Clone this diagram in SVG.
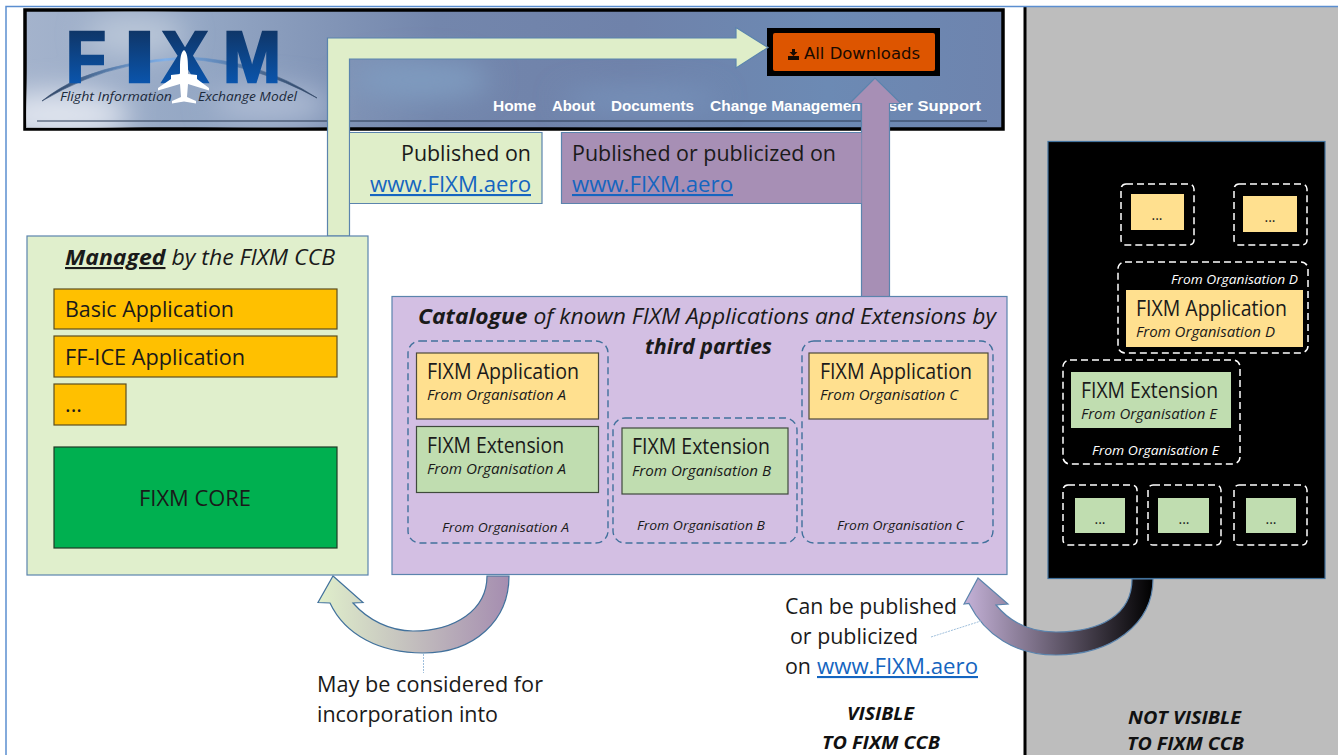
<svg xmlns="http://www.w3.org/2000/svg" width="1338" height="755" viewBox="0 0 1338 755">
<style>
text{font-family:"Open Sans","Noto Sans","Liberation Sans",sans-serif;fill:#1a1a1a}
.big{font-size:21px}
.sub{font-size:15px;font-style:italic}
.tiny{font-size:13px;font-style:italic}
.hd{font-size:21px;font-style:italic}
.vis{font-size:18px;font-style:italic;font-weight:700;fill:#111}
.lnk{fill:#1565c0;text-decoration:underline;font-size:21px}
.nav{font-family:"Liberation Sans",sans-serif;font-weight:700;font-size:15.500px;fill:#fff}
.wh{fill:#fff}
.dash{fill:none;stroke:#41719c;stroke-width:1.4;stroke-dasharray:7 4}
.wd{fill:none;stroke:#fff;stroke-width:1.5;stroke-dasharray:7 4}
.app{fill:#ffe08f;stroke:#4d4a3a;stroke-width:1.2}
.ext{fill:#c0ddb0;stroke:#3f4a3c;stroke-width:1.2}
.appd{fill:#ffe08f}
.extd{fill:#c0ddb0}
.gold{fill:#ffc000;stroke:#5c4e20;stroke-width:1.2}
.ln{stroke:#5b84ad;stroke-width:1.2}
.lg{font-family:"Liberation Sans",sans-serif;font-size:72px;font-weight:700;fill:url(#logo);stroke:url(#logo);stroke-width:2.500}
.tag{font-size:13.500px;font-style:italic;fill:#1c2a3c}
</style>
<defs>
<linearGradient id="sky" x1="0" y1="0" x2="1" y2="0"><stop offset="0" stop-color="#a4b3cc"/><stop offset=".18" stop-color="#94a7c4"/><stop offset=".42" stop-color="#7386ac"/><stop offset=".62" stop-color="#6f82aa"/><stop offset=".82" stop-color="#6c8ab4"/><stop offset="1" stop-color="#6e84ae"/></linearGradient>
<linearGradient id="logo" x1="0" y1="29" x2="0" y2="84" gradientUnits="userSpaceOnUse"><stop offset="0" stop-color="#0f3566"/><stop offset="1" stop-color="#0a55ad"/></linearGradient>
<linearGradient id="swoosh" x1="41" y1="0" x2="318" y2="0" gradientUnits="userSpaceOnUse"><stop offset="0" stop-color="#2a3f5e"/><stop offset=".45" stop-color="#7fb0ea"/><stop offset="1" stop-color="#2a3f5e"/></linearGradient>
<linearGradient id="g1" x1="318" y1="0" x2="509" y2="0" gradientUnits="userSpaceOnUse"><stop offset="0" stop-color="#e0efcb"/><stop offset="1" stop-color="#a58db0"/></linearGradient>
<linearGradient id="g2" x1="964" y1="0" x2="1153" y2="0" gradientUnits="userSpaceOnUse"><stop offset="0" stop-color="#c5b2d8"/><stop offset="1" stop-color="#000"/></linearGradient>
<filter id="soft" x="-30%" y="-30%" width="160%" height="160%"><feGaussianBlur stdDeviation="14"/></filter>
<clipPath id="hc"><rect x="26" y="11" width="976" height="117"/></clipPath>
</defs>
<rect width="1338" height="755" fill="#fff"/>
<rect x="1025" y="6" width="313" height="749" fill="#bdbdbd"/>
<path d="M1025 6V755" stroke="#000" stroke-width="3"/>
<path d="M6 755V6.500H1338" fill="none" stroke="#5b8ed0" stroke-width="1.500"/>

<g id="header">
<rect x="25" y="10" width="978" height="119" fill="url(#sky)" stroke="#000" stroke-width="3.500"/>
<g clip-path="url(#hc)"><g filter="url(#soft)">
<ellipse cx="60" cy="115" rx="70" ry="24" fill="#dfe4ee"/>
<ellipse cx="135" cy="35" rx="50" ry="22" fill="#b9c6d8"/>
<ellipse cx="270" cy="105" rx="60" ry="18" fill="#aebcd4"/>
<ellipse cx="420" cy="80" rx="70" ry="20" fill="#7f9bc0"/>
<ellipse cx="640" cy="100" rx="80" ry="12" fill="#7793bb"/>
</g></g>
<path d="M37 121H987" stroke="#2b3a55" stroke-width="1.200"/>
<g id="logo-mark">
<path d="M42 101Q58 88 80 78Q125 60 187 57Q260 60 317 98Q255 64 187 59Q125 62 84 80Q62 89 42 101Z" fill="url(#swoosh)" stroke="url(#swoosh)" stroke-width=".6"/>
<text class="lg" x="66" y="82" textLength="40" lengthAdjust="spacingAndGlyphs">F</text>
<text class="lg" x="123" y="82" textLength="33" lengthAdjust="spacingAndGlyphs">I</text>
<text class="lg" x="162" y="82" textLength="46" lengthAdjust="spacingAndGlyphs">X</text>
<text class="lg" x="223" y="82" textLength="58" lengthAdjust="spacingAndGlyphs">M</text>
<path d="M184 50C181 52 180 58 180 68V74L171 75V79L158 88V90.500L180 84L181 97L172 101V103.500L184 101.500L196 103.500V101L187 97L188 84L209 90.500V88L197 79V75L188 74V68C188 58 187 52 184 50Z" fill="#fff"/>
<text class="tag" x="60" y="101" textLength="112" lengthAdjust="spacingAndGlyphs">Flight Information</text>
<text class="tag" x="198" y="101" textLength="99" lengthAdjust="spacingAndGlyphs">Exchange Model</text>
</g>
<text class="nav" x="493" y="111" textLength="43" lengthAdjust="spacingAndGlyphs">Home</text>
<text class="nav" x="552" y="111" textLength="43" lengthAdjust="spacingAndGlyphs">About</text>
<text class="nav" x="611" y="111" textLength="83" lengthAdjust="spacingAndGlyphs">Documents</text>
<text class="nav" x="710" y="111" textLength="156" lengthAdjust="spacingAndGlyphs">Change Management</text>
<text class="nav" x="876" y="111" textLength="105" lengthAdjust="spacingAndGlyphs">User Support</text>
</g>

<g id="downloads">
<rect x="767" y="28" width="173" height="48" fill="#000"/>
<rect x="773" y="33" width="162" height="38" rx="2" fill="#dd5500"/>
<path d="M792 49h3v3h2.500l-4 4-4-4h2.500zM788 56h11v4h-11z" fill="#1a0a00"/>
<text x="804" y="59" textLength="116" lengthAdjust="spacingAndGlyphs" style="font-family:'DejaVu Sans',sans-serif;font-size:16px;fill:#1a0a00">All Downloads</text>
</g>

<g id="connectors">
<path d="M327.500 236V38H736V27.500L768 47.500L736 68V59H349.500V236Z" fill="#dfeec9" stroke="#5b84ad" stroke-width="1.200"/>
<path d="M861.500 297V103.500H849.500L875 78L901 103.500H889.500V297Z" fill="#a78fb5" stroke="#5b84ad" stroke-width="1.200"/>
<path d="M509 576C509 620 475 653 423 653C380 653 345 635 330 603L318 602.500L333 576L363 602.500L353 603C368 620 390 631 413 631C455 631 487 610 487 576Z" fill="url(#g1)" stroke="#41719c" stroke-width="1.200"/>
<path d="M1153 579C1153 625 1110 655 1056 655C1015 655 985 635 969 603.500L964 604L978 578L1008 604L996 605C1010 622 1030 632 1056 632C1100 632 1132 615 1132 579Z" fill="url(#g2)" stroke="#5b84ad" stroke-width="1.200"/>
<path d="M423.500 654V673" stroke="#9fbfdc" stroke-width="1" stroke-dasharray="2 1"/>
<path d="M931 637L981 621" stroke="#9fbfdc" stroke-width="1" stroke-dasharray="2 1"/>
</g>

<g id="published-green">
<rect x="350" y="132.500" width="192" height="71" fill="#dfeec9"/>
<path d="M350 132.500H542V203.500H350" fill="none" class="ln"/>
<text class="big" x="531" y="161" text-anchor="end" textLength="130" lengthAdjust="spacingAndGlyphs">Published on</text>
<text class="lnk" x="370" y="192" textLength="161" lengthAdjust="spacingAndGlyphs">www.FIXM.aero</text>
</g>
<g id="published-purple">
<rect x="561.500" y="132.500" width="300" height="71" fill="#a78fb5"/>
<path d="M861.500 132.500H561.500V203.500H861.500" fill="none" class="ln"/>
<text class="big" x="572" y="161" textLength="264" lengthAdjust="spacingAndGlyphs">Published or publicized on</text>
<text class="lnk" x="572" y="192" textLength="161" lengthAdjust="spacingAndGlyphs">www.FIXM.aero</text>
</g>

<g id="managed">
<rect x="27" y="236" width="341" height="339" fill="#e0efcc" class="ln"/>
<text class="hd" x="65" y="265" textLength="270" lengthAdjust="spacingAndGlyphs"><tspan font-weight="700" text-decoration="underline">Managed</tspan> by the FIXM CCB</text>
</g>
<g id="basic-application"><rect class="gold" x="54" y="289" width="283" height="40"/><text class="big" x="65" y="317" textLength="169" lengthAdjust="spacingAndGlyphs">Basic Application</text></g>
<g id="ff-ice-application"><rect class="gold" x="54" y="336" width="283" height="41"/><text class="big" x="65" y="365" textLength="180" lengthAdjust="spacingAndGlyphs">FF-ICE Application</text></g>
<g id="more-applications"><rect class="gold" x="54" y="384" width="72" height="41"/><text class="big" x="65" y="412" textLength="17" lengthAdjust="spacingAndGlyphs">...</text></g>
<g id="fixm-core"><rect x="54" y="447" width="283" height="101" fill="#00b050" stroke="#1f3a25" stroke-width="1.200"/><text class="big" x="139" y="506" textLength="112" lengthAdjust="spacingAndGlyphs">FIXM CORE</text></g>

<g id="catalogue">
<rect x="392" y="296.500" width="615" height="278" fill="#d3bfe3" class="ln"/>
<text class="hd" x="418" y="324" textLength="578" lengthAdjust="spacingAndGlyphs"><tspan font-weight="700">Catalogue</tspan> of known FIXM Applications and Extensions by</text>
<text class="hd" x="645" y="354" font-weight="700" textLength="127" lengthAdjust="spacingAndGlyphs">third parties</text>
</g>
<g id="org-a">
<rect class="dash" x="408" y="341" width="200" height="202" rx="12"/>
<text class="tiny" x="442" y="532" textLength="127" lengthAdjust="spacingAndGlyphs">From Organisation A</text>
</g>
<g id="org-b">
<rect class="dash" x="613" y="418" width="184" height="125" rx="12"/>
<text class="tiny" x="637" y="530" textLength="128" lengthAdjust="spacingAndGlyphs">From Organisation B</text>
</g>
<g id="org-c">
<rect class="dash" x="802" y="341" width="191" height="202" rx="12"/>
<text class="tiny" x="837" y="530" textLength="127" lengthAdjust="spacingAndGlyphs">From Organisation C</text>
</g>
<g id="app-a"><rect class="app" x="416.500" y="353" width="182" height="66"/><text class="big" x="427" y="379" textLength="152" lengthAdjust="spacingAndGlyphs">FIXM Application</text><text class="sub" x="427" y="400" textLength="139" lengthAdjust="spacingAndGlyphs">From Organisation A</text></g>
<g id="ext-a"><rect class="ext" x="416.500" y="426.500" width="182" height="66"/><text class="big" x="427" y="453" textLength="137" lengthAdjust="spacingAndGlyphs">FIXM Extension</text><text class="sub" x="427" y="474" textLength="139" lengthAdjust="spacingAndGlyphs">From Organisation A</text></g>
<g id="ext-b"><rect class="ext" x="622" y="428" width="166" height="66"/><text class="big" x="632" y="454" textLength="138" lengthAdjust="spacingAndGlyphs">FIXM Extension</text><text class="sub" x="632" y="476" textLength="139" lengthAdjust="spacingAndGlyphs">From Organisation B</text></g>
<g id="app-c"><rect class="app" x="809" y="353" width="179" height="66"/><text class="big" x="820" y="379" textLength="152" lengthAdjust="spacingAndGlyphs">FIXM Application</text><text class="sub" x="820" y="400" textLength="138" lengthAdjust="spacingAndGlyphs">From Organisation C</text></g>

<g id="hidden-panel"><rect x="1048" y="141.500" width="277" height="437" fill="#000" stroke="#41719c" stroke-width="1.200"/></g>
<g id="hidden-app-1"><rect class="wd" x="1121" y="184" width="73" height="61" rx="5"/><rect class="appd" x="1131" y="194" width="53" height="36"/><text class="big" x="1157" y="220" text-anchor="middle" style="font-size:14px">...</text></g>
<g id="hidden-app-2"><rect class="wd" x="1234" y="184" width="73" height="61" rx="5"/><rect class="appd" x="1243" y="196" width="54" height="36"/><text class="big" x="1270" y="222" text-anchor="middle" style="font-size:14px">...</text></g>
<g id="org-d">
<rect class="wd" x="1118" y="262" width="190" height="91" rx="7"/>
<text class="tiny wh" x="1171" y="284" textLength="127" lengthAdjust="spacingAndGlyphs" style="fill:#fff">From Organisation D</text>
<rect class="appd" x="1126" y="290" width="177" height="57"/>
<text class="big" x="1136" y="316" textLength="151" lengthAdjust="spacingAndGlyphs">FIXM Application</text>
<text class="sub" x="1136" y="337" textLength="139" lengthAdjust="spacingAndGlyphs">From Organisation D</text>
</g>
<g id="org-e">
<rect class="wd" x="1063" y="360" width="177" height="104" rx="7"/>
<rect class="extd" x="1071" y="372" width="160" height="56"/>
<text class="big" x="1081" y="398" textLength="137" lengthAdjust="spacingAndGlyphs">FIXM Extension</text>
<text class="sub" x="1081" y="419" textLength="136" lengthAdjust="spacingAndGlyphs">From Organisation E</text>
<text class="tiny wh" x="1092" y="455" textLength="127" lengthAdjust="spacingAndGlyphs" style="fill:#fff">From Organisation E</text>
</g>
<g id="hidden-ext-1"><rect class="wd" x="1063" y="485" width="74" height="60" rx="5"/><rect class="extd" x="1075" y="498" width="50" height="35"/><text class="big" x="1100" y="524" text-anchor="middle" style="font-size:14px">...</text></g>
<g id="hidden-ext-2"><rect class="wd" x="1148" y="485" width="73" height="60" rx="5"/><rect class="extd" x="1158" y="498" width="51" height="35"/><text class="big" x="1184" y="524" text-anchor="middle" style="font-size:14px">...</text></g>
<g id="hidden-ext-3"><rect class="wd" x="1234" y="485" width="73" height="60" rx="5"/><rect class="extd" x="1246" y="498" width="50" height="35"/><text class="big" x="1271" y="524" text-anchor="middle" style="font-size:14px">...</text></g>

<g id="labels">
<text class="big" x="317" y="692" textLength="226" lengthAdjust="spacingAndGlyphs">May be considered for</text>
<text class="big" x="317" y="722" textLength="181" lengthAdjust="spacingAndGlyphs">incorporation into</text>
<text class="big" x="785" y="614" textLength="172" lengthAdjust="spacingAndGlyphs">Can be published</text>
<text class="big" x="790" y="644" textLength="128" lengthAdjust="spacingAndGlyphs">or publicized</text>
<text class="big" x="785" y="674" textLength="26" lengthAdjust="spacingAndGlyphs">on</text>
<text class="lnk" x="817" y="674" textLength="161" lengthAdjust="spacingAndGlyphs">www.FIXM.aero</text>
<text class="vis" x="847" y="720" textLength="67" lengthAdjust="spacingAndGlyphs">VISIBLE</text>
<text class="vis" x="822" y="749" textLength="118" lengthAdjust="spacingAndGlyphs">TO FIXM CCB</text>
<text class="vis" x="1128" y="724" textLength="113" lengthAdjust="spacingAndGlyphs">NOT VISIBLE</text>
<text class="vis" x="1127" y="750" textLength="117" lengthAdjust="spacingAndGlyphs">TO FIXM CCB</text>
</g>
</svg>
